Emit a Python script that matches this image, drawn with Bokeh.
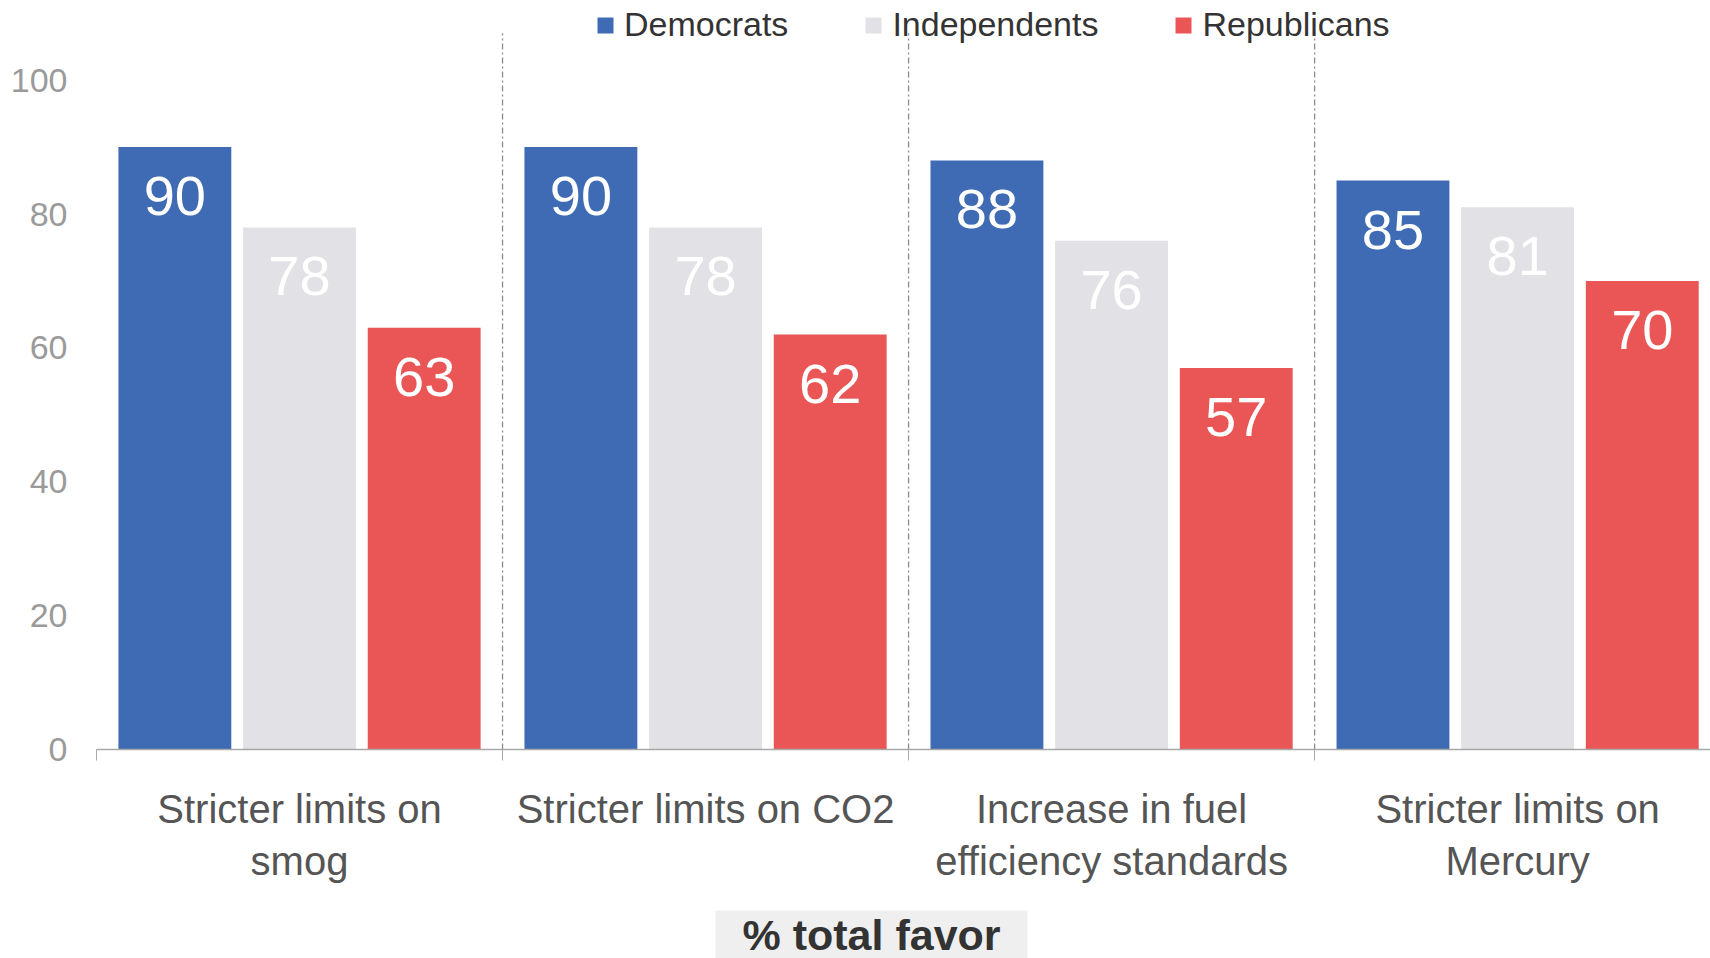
from bokeh.plotting import figure
from bokeh.models import (Range1d, FixedTicker, Legend, LegendItem, ColumnDataSource, Title)
from bokeh.core.properties import value
from bokeh.embed import file_html
from bokeh.resources import INLINE

categories = ["Stricter limits on\nsmog", "Stricter limits on CO2",
              "Increase in fuel\nefficiency standards", "Stricter limits on\nMercury"]
series_names = ["Democrats", "Independents", "Republicans"]
democrats = [90, 90, 88, 85]
independents = [78, 78, 76, 81]
republicans = [63, 62, 57, 70]
y_ticks = [0, 20, 40, 60, 80, 100]
colors = ["#3e6bb4", "#e1e1e6", "#ea5656"]
x_title = "% total favor"

FONT = "Liberation Sans"
n = len(categories)
y_top = 111.9
sep_top = 107.0

p = figure(width=1710, height=958, output_backend="svg", toolbar_location=None,
           x_range=Range1d(0, n - 0.025), y_range=Range1d(0, y_top),
           min_border_left=96, min_border_right=0, min_border_top=0, min_border_bottom=209)
p.outline_line_color = None
p.xgrid.visible = False
p.ygrid.visible = False
p.background_fill_color = "white"

# separators
seps = list(range(1, n))
p.segment(x0=seps, y0=[0] * len(seps), x1=seps, y1=[sep_top] * len(seps),
          line_color="#8c8c8c", line_width=1.3, line_dash="6 3 2 3")

offsets = [-0.307, 0.0, 0.307]
bar_w = 0.278
renderers = []
for vals, off, col in zip([democrats, independents, republicans], offsets, colors):
    xs = [i + 0.5 + off for i in range(n)]
    src = ColumnDataSource(dict(x=xs, top=vals, label=[str(v) for v in vals]))
    r = p.vbar(x="x", top="top", width=bar_w, bottom=0, source=src,
               fill_color=col, line_color=None)
    renderers.append(r)
    p.text(x="x", y="top", text="label", source=src, text_align="center",
           text_baseline="middle", y_offset=49, text_color="white",
           text_font=value(FONT), text_font_size="56px")

legend = Legend(items=[LegendItem(label=nm, renderers=[r]) for nm, r in zip(series_names, renderers)],
                orientation="horizontal", location=(499, 705),
                glyph_width=20, glyph_height=20, label_standoff=9, spacing=75,
                padding=0, margin=0, border_line_color=None, background_fill_alpha=0,
                label_text_font=FONT, label_text_font_size="34px", label_text_color="#333333")
p.add_layout(legend)

# y axis
p.yaxis.ticker = FixedTicker(ticks=y_ticks)
p.yaxis.axis_line_color = None
p.yaxis.major_tick_line_color = None
p.yaxis.minor_tick_line_color = None
p.yaxis.major_label_standoff = 23
p.yaxis.major_label_text_font = FONT
p.yaxis.major_label_text_font_size = "34px"
p.yaxis.major_label_text_color = "#9a9a9a"

# x axis
centers = [i + 0.5 for i in range(n)]
p.xaxis.ticker = FixedTicker(ticks=centers, minor_ticks=list(range(n + 1)))
p.xaxis.major_label_overrides = {c: lab for c, lab in zip(centers, categories)}
p.xaxis.axis_line_color = "#a8a8a8"
p.xaxis.axis_line_width = 1.5
p.xaxis.major_tick_line_color = None
p.xaxis.major_tick_out = 0
p.xaxis.major_tick_in = 0
p.xaxis.minor_tick_line_color = "#a8a8a8"
p.xaxis.minor_tick_out = 11
p.xaxis.minor_tick_in = 0
p.xaxis.major_label_standoff = 26
p.xaxis.major_label_text_font = FONT
p.xaxis.major_label_text_font_size = "40px"
p.xaxis.major_label_text_color = "#555555"

# spacer between axis labels and the bottom title
spacer = Title(text=" ", text_font_size="1px", standoff=19)
p.add_layout(spacer, "below")

t = Title(text=x_title, align="left", offset=619, text_font=FONT, text_font_size="43px",
          text_font_style="bold", text_color="#333333", background_fill_color="#efefef",
          standoff=0)
if "padding" in Title.properties():
    t.padding = (27, 0)
p.add_layout(t, "below")

open("out.html", "w").write(file_html(p, INLINE))
